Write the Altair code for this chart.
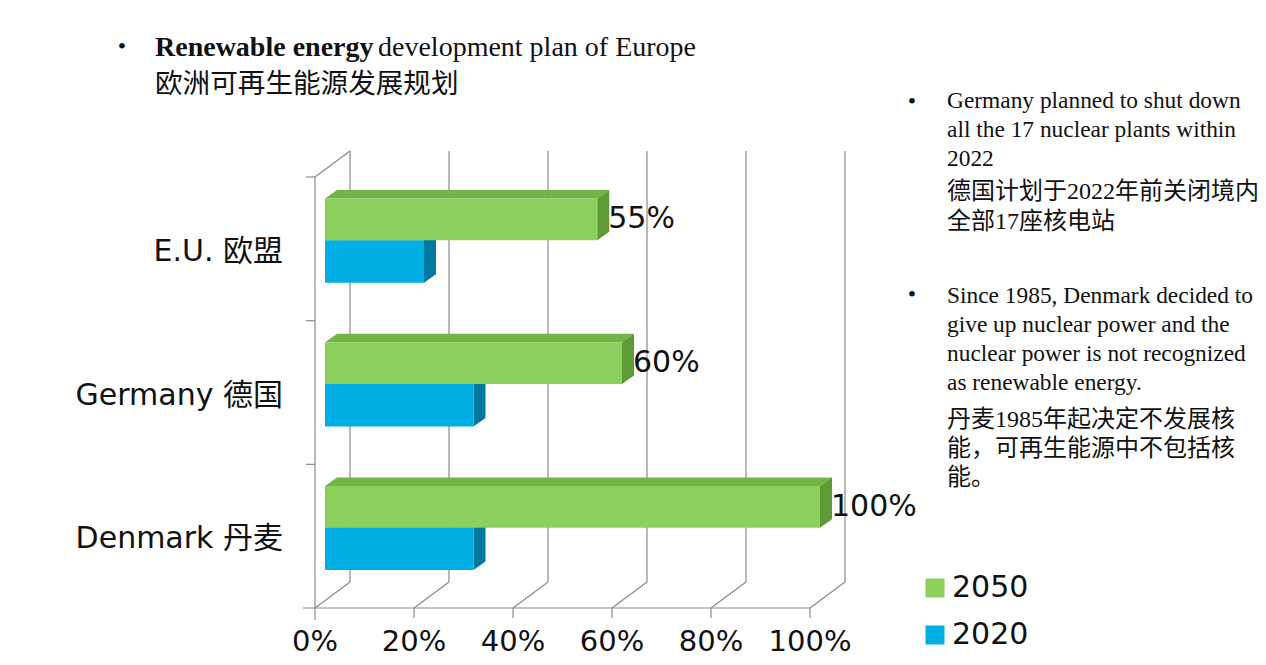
import altair as alt
import pandas as pd

# ---------------- data ----------------
categories = ["E.U. 欧盟", "Germany 德国", "Denmark 丹麦"]
series = ["2050", "2020"]
v2050 = [55, 60, 100]
v2020 = [20, 30, 30]
ticks = [0, 20, 40, 60, 80, 100]
tick_labels = ["0%", "20%", "40%", "60%", "80%", "100%"]
value_labels = ["55%", "60%", "100%"]

title_bold = "Renewable energy"
title_rest = "development plan of Europe"
title_cn = "欧洲可再生能源发展规划"
note1 = ["Germany planned to shut down", "all the 17 nuclear plants within", "2022"]
note1_cn = ["德国计划于2022年前关闭境内", "全部17座核电站"]
note2 = ["Since 1985, Denmark decided to", "give up nuclear power and the",
         "nuclear power is not recognized", "as renewable energy."]
note2_cn = ["丹麦1985年起决定不发展核", "能，可再生能源中不包括核", "能。"]

# ---------------- styling / geometry ----------------
GREEN, GREEN_TOP, GREEN_SIDE = "#8ccf5c", "#74b446", "#5e9a35"
BLUE, BLUE_TOP, BLUE_SIDE = "#00aee6", "#0092c4", "#00799f"
GRID = "#8a8a8a"
W, H = 495, 431            # front plane size in px
KX, KY = W / 100, H / 3    # px per unit
DX, DY = 35 / KX, 26 / KY  # depth of the chart box
BX = 10 / KX               # bar front face offset
BDX, BDY = 12 / KX, 8.5 / KY  # bar depth
LO, MID, HI = 0.264, 0.559, 0.850
SANS = "DejaVu Sans, Noto Sans CJK SC"
SERIF = "Liberation Serif, Noto Sans CJK SC"

xs = alt.Scale(domain=[0, 100], nice=False, zero=False)
ys = alt.Scale(domain=[0, 3], nice=False, zero=False)


def X(f):
    return alt.X(f, type="quantitative", scale=xs, axis=None)


def Y(f):
    return alt.Y(f, type="quantitative", scale=ys, axis=None)


n = len(categories)
bases = [n - 1 - i for i in range(n)]

# ---------------- frame (walls, floor, gridlines) ----------------
rules = []
for t in ticks:
    rules.append(dict(x=t + DX, y=DY, x2=t + DX, y2=3 + DY))      # back gridline
    rules.append(dict(x=t, y=0, x2=t + DX, y2=DY))                # floor diagonal
    if t > 0:
        rules.append(dict(x=t, y=0, x2=t, y2=-10 / KY))           # front tick
rules.append(dict(x=0, y=-12 / KY, x2=0, y2=3))                  # left wall front edge
rules.append(dict(x=0, y=3, x2=DX, y2=3 + DY))                   # left wall top
rules.append(dict(x=-12 / KX, y=0, x2=100, y2=0))                # floor front edge
for k in range(1, n + 1):
    rules.append(dict(x=-9 / KX, y=k, x2=0, y2=k))               # wall ticks
rules_df = pd.DataFrame(rules)

frame = alt.Chart(rules_df).mark_rule(color=GRID, strokeWidth=1.2).encode(
    x=X("x"), y=Y("y"), x2=alt.X2("x2"), y2=alt.Y2("y2"))

# ---------------- bars ----------------
def faces(vals, lo, hi, name):
    front, side, top = [], [], []
    for i, (b, v) in enumerate(zip(bases, vals)):
        front.append(dict(x=BX, x2=BX + v, y=b + lo, y2=b + hi, series=name))
        side.append(dict(id=i, x=BX + v, y=b + lo, y2=b + hi))
        side.append(dict(id=i, x=BX + v + BDX, y=b + lo + BDY, y2=b + hi + BDY))
        top.append(dict(id=i, y=b + hi, x=BX, x2=BX + v))
        top.append(dict(id=i, y=b + hi + BDY, x=BX + BDX, x2=BX + v + BDX))
    return pd.DataFrame(front), pd.DataFrame(side), pd.DataFrame(top)


color = alt.Color("series:N", scale=alt.Scale(domain=series, range=[GREEN, BLUE]),
                  legend=alt.Legend(title=None, orient="none", legendX=605, legendY=396,
                                    symbolType="square", symbolSize=361, symbolStrokeWidth=0,
                                    labelFont="DejaVu Sans", labelFontSize=30, labelColor="#111",
                                    labelOffset=2, rowPadding=17, padding=0))


def bar_layers(vals, lo, hi, name, c_top, c_side):
    f, s, t = faces(vals, lo, hi, name)
    top = alt.Chart(t).mark_area(orient="horizontal", color=c_top, opacity=1).encode(
        y=Y("y"), x=X("x"), x2=alt.X2("x2"), detail="id:N")
    side = alt.Chart(s).mark_area(orient="vertical", color=c_side, opacity=1).encode(
        x=X("x"), y=Y("y"), y2=alt.Y2("y2"), detail="id:N")
    front = alt.Chart(f).mark_rect().encode(
        x=X("x"), x2=alt.X2("x2"), y=Y("y"), y2=alt.Y2("y2"), color=color)
    return [top, side, front]


blue_layers = bar_layers(v2020, LO, MID, "2020", BLUE_TOP, BLUE_SIDE)
green_layers = bar_layers(v2050, MID, HI, "2050", GREEN_TOP, GREEN_SIDE)

# ---------------- labels ----------------
vl_df = pd.DataFrame(dict(x=[BX + v + BDX for v in v2050],
                          y=[b + (MID + HI) / 2 for b in bases],
                          label=value_labels))
value_text = alt.Chart(vl_df).mark_text(align="left", baseline="middle", dx=-1,
                                        font="DejaVu Sans", fontSize=30, color="#111").encode(
    x=X("x"), y=Y("y"), text="label:N")

tl_df = pd.DataFrame(dict(x=ticks, y=[0] * len(ticks), label=tick_labels))
tick_text = alt.Chart(tl_df).mark_text(align="center", baseline="middle", dy=34,
                                       font="DejaVu Sans", fontSize=29, color="#111").encode(
    x=X("x"), y=Y("y"), text="label:N")

cat_df = pd.DataFrame(dict(y=[b + 0.478 for b in bases], label=categories))
cat_text = alt.Chart(cat_df).mark_text(align="right", baseline="middle",
                                       font=SANS, fontSize=30, color="#111").encode(
    x=alt.value(-32), y=Y("y"), text="label:N")

# ---------------- annotation text ----------------
def text_block(lines, x, y0, step, font, size, weight="normal"):
    df = pd.DataFrame(dict(label=lines, yy=[y0 + i * step for i in range(len(lines))]))
    return alt.Chart(df).mark_text(align="left", baseline="middle", font=font, fontSize=size,
                                   fontWeight=weight, color="#111").encode(
        x=alt.value(x), y=alt.Y("yy:Q", scale=None, axis=None), text="label:N")


bullets_df = pd.DataFrame(dict(label=["•", "•", "•"], xx=[-193, 597, 597], yy=[-130, -75, 118]))
bullets = alt.Chart(bullets_df).mark_text(align="center", baseline="middle", font="Liberation Serif",
                                          fontSize=24, color="#111").encode(
    x=alt.X("xx:Q", scale=None, axis=None), y=alt.Y("yy:Q", scale=None, axis=None), text="label:N")

annots = [
    text_block([title_bold], -160, -129, 0, "Liberation Serif", 28, "bold"),
    text_block([title_rest], 63, -129, 0, "Liberation Serif", 28),
    text_block([title_cn], -160, -92, 0, "Noto Sans CJK SC", 27.6),
    text_block(note1, 632, -76, 29, "Liberation Serif", 23.4),
    text_block(note1_cn, 632, 15, 30, SERIF, 24),
    text_block(note2, 632, 119, 29, "Liberation Serif", 23.4),
    text_block(note2_cn, 632, 243, 29, SERIF, 24),
    bullets,
]

chart = alt.layer(frame, *blue_layers, *green_layers, value_text, tick_text, cat_text, *annots).properties(
    width=W, height=H,
    padding={"left": 307, "top": 169, "right": 448, "bottom": 49},
    autosize=alt.AutoSizeParams(type="none"),
    background="white",
).configure_view(stroke=None)

chart.save("out.html", embed_options={"renderer": "svg", "actions": False})
